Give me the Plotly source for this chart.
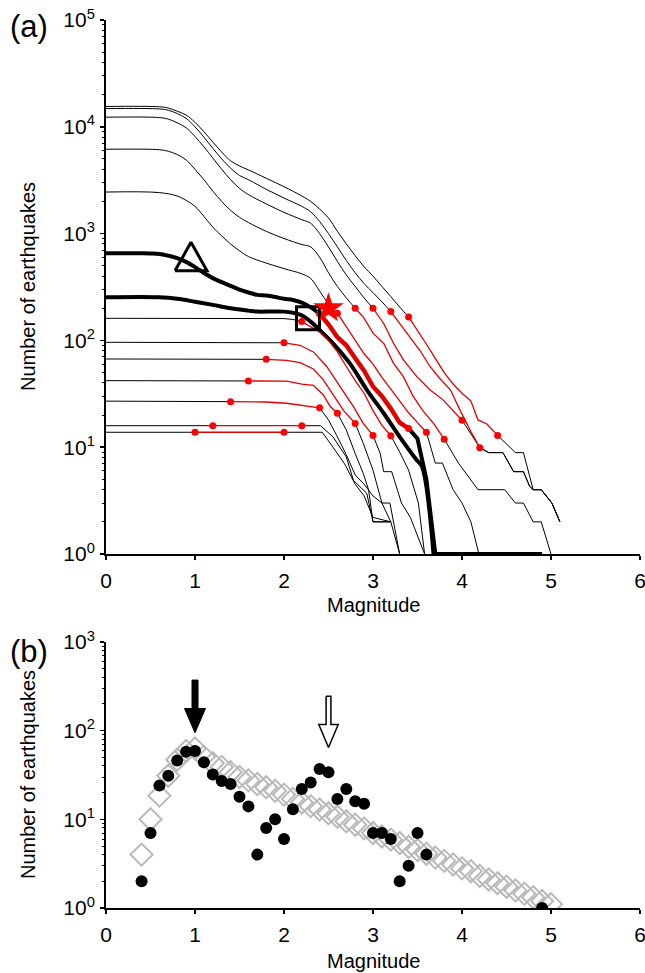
import plotly.graph_objects as go

# ---------------- layout constants (pixels) ----------------
W, H = 645, 973
# reference pixel rows/cols of the plot areas
REF_L, REF_R = 106, 640
A_TOP, A_BOT = 20, 554
B_TOP, B_BOT = 642, 908
ML = REF_L
MR = W - REF_R
MT = A_TOP
MB = H - B_BOT
PLOT_W = W - ML - MR
PLOT_H = H - MT - MB
ya_dom = [(B_BOT - A_BOT) / PLOT_H, 1.0]
yb_dom = [0.0, (B_BOT - B_TOP) / PLOT_H]
X_RANGE = [0, 6]
YA_RANGE = [0, 5]
YB_RANGE = [0, 3]
PX_PER_MAG = PLOT_W / (X_RANGE[1] - X_RANGE[0])
PX_PER_DEC_A = (A_BOT - A_TOP) / (YA_RANGE[1] - YA_RANGE[0])
PX_PER_DEC_B = (B_BOT - B_TOP) / (YB_RANGE[1] - YB_RANGE[0])

# ---------------- panel (b) data ----------------
b_dot_m = [0.4, 0.5, 0.6, 0.7, 0.8, 0.9, 1.0, 1.1, 1.2, 1.3, 1.4, 1.5, 1.6, 1.7, 1.8, 1.9,
           2.0, 2.1, 2.2, 2.3, 2.4, 2.5, 2.6, 2.7, 2.8, 2.9, 3.0, 3.1, 3.2, 3.3, 3.4, 3.5,
           3.6, 4.9]
b_dot_n = [2, 7, 24, 31, 46, 58, 59, 44, 32, 27, 25, 18, 14, 4, 8, 10,
           6, 13, 22, 26, 37, 34, 17, 22, 16, 15, 7, 7, 6, 2, 3, 7,
           4, 1]
b_dia_m = [0.4, 0.5, 0.6, 0.7, 0.8, 0.9, 1.0, 1.1, 1.2, 1.3, 1.4, 1.5, 1.6, 1.7, 1.8, 1.9,
           2.0, 2.1, 2.2, 2.3, 2.4, 2.5, 2.6, 2.7, 2.8, 2.9, 3.0, 3.1, 3.2, 3.3, 3.4, 3.5,
           3.6, 3.7, 3.8, 3.9, 4.0, 4.1, 4.2, 4.3, 4.4, 4.5, 4.6, 4.7, 4.8, 4.9, 5.0]
b_dia_n = [4, 10, 18.5, 31, 47, 59, 63, 51, 43, 39, 34, 30, 27.5, 25, 23, 21,
           19, 17, 15.5, 14.1, 12.9, 11.7, 10.7, 9.5, 8.7, 7.9, 7.0, 6.4, 5.9, 5.4, 4.9, 4.5,
           4.1, 3.7, 3.4, 3.1, 2.8, 2.6, 2.3, 2.1, 1.9, 1.74, 1.58, 1.45, 1.32, 1.2, 1.1]
# arrows in (b): magnitude, tip / head-base / shaft-top counts
arrow_m = [1.0, 2.5]
arrow_tip_n = [94.6, 64.6]
arrow_base_n = [178, 117]
arrow_top_n = [372, 245]
arrow_filled = [True, False]

# ---------------- panel (a) data ----------------
c01_m = [0, 0.6, 0.7, 0.8, 0.9, 1.0, 1.1, 1.2, 1.3, 1.4, 1.5, 1.6, 1.8, 2.0, 2.2, 2.3, 2.4, 2.5,
         2.6, 2.7, 2.8, 2.9, 3.0, 3.1, 3.2, 3.3, 3.4, 3.5, 3.6, 3.7, 3.8, 3.9, 4.0, 4.1, 4.18,
         4.28, 4.4, 4.6, 4.69, 4.8, 4.89, 5.01, 5.1]
c01_n = [15500, 15400, 15000, 14000, 12900, 11000, 9000, 7200, 5800, 4800, 4300, 3950, 3300,
         2750, 2250, 2000, 1700, 1400, 1050, 800, 620, 490, 400, 320, 257, 205, 166, 125, 92,
         68, 50, 39, 32, 27, 18, 16.5, 12.9, 8.9, 8.9, 4, 4, 3, 2]
c02_m = [0, 0.6, 0.7, 0.8, 0.9, 1.0, 1.1, 1.2, 1.3, 1.4, 1.5, 1.6, 1.8, 2.0, 2.2, 2.3, 2.4, 2.5,
         2.6, 2.7, 2.8, 2.9, 3.0, 3.1, 3.2, 3.3, 3.42, 3.53, 3.64, 3.75, 3.87, 3.98, 4.1, 4.2,
         4.3, 4.46, 4.58, 4.69, 4.76, 4.8, 4.89, 5.01, 5.1]
c02_n = [14800, 14700, 14300, 13300, 12000, 10000, 8000, 6300, 5000, 4100, 3500, 3200, 2600,
         2150, 1800, 1600, 1300, 1000, 750, 560, 430, 340, 280, 230, 186, 145, 108, 80, 57,
         44, 34.5, 22, 14, 9.9, 8.9, 8.9, 5.9, 5.9, 4.3, 4, 4, 3, 2]
c03_m = [0, 0.6, 0.7, 0.8, 0.9, 1.0, 1.1, 1.2, 1.3, 1.4, 1.5, 1.6, 1.8, 2.0, 2.2, 2.3, 2.4, 2.5,
         2.6, 2.7, 2.8, 2.9, 3.0, 3.12, 3.23, 3.34, 3.49, 3.64, 3.79, 3.9, 4.0, 4.2, 4.3, 4.46,
         4.58, 4.69, 4.76, 4.8, 4.89, 5.01, 5.1]
c03_n = [12300, 12200, 11800, 10900, 9800, 8100, 6500, 5100, 4000, 3200, 2650, 2320, 1900,
         1580, 1350, 1250, 1000, 750, 550, 410, 320, 250, 200, 144, 94, 66, 46, 34.5, 27.6,
         22, 17.9, 9.9, 8.9, 8.9, 5.9, 5.9, 4.3, 4, 4, 3, 2]
c04_m = [0, 0.6, 0.7, 0.8, 0.9, 1.0, 1.1, 1.2, 1.3, 1.4, 1.5, 1.6, 1.8, 2.0, 2.2, 2.3, 2.4, 2.5,
         2.6, 2.7, 2.8, 2.89, 3.0, 3.12, 3.23, 3.34, 3.45, 3.56, 3.68, 3.8, 3.96, 4.18, 4.48,
         4.6, 4.69, 4.8, 4.89, 5.0]
c04_n = [6160, 6100, 5900, 5500, 4900, 4000, 3200, 2500, 2000, 1650, 1420, 1270, 1050, 900,
         790, 750, 600, 430, 320, 250, 200, 166, 117, 94, 61, 46, 30, 22, 16.7, 11.9, 7.1, 4,
         4, 3, 3, 2, 2, 1]
c05_m = [0, 0.6, 0.8, 0.9, 1.0, 1.1, 1.2, 1.3, 1.4, 1.5, 1.6, 1.8, 2.0, 2.2, 2.3, 2.4, 2.5, 2.6,
         2.7, 2.8, 2.9, 3.0, 3.1, 3.2, 3.3, 3.4, 3.5, 3.6, 3.7, 3.78, 3.9, 4.0, 4.1, 4.19]
c05_n = [2450, 2420, 2250, 2050, 1800, 1450, 1150, 950, 800, 690, 610, 530, 470, 420, 380, 290,
         220, 180, 135, 100, 75, 60, 45, 35, 27, 21, 17, 13.8, 7.1, 7.1, 4, 3, 2, 1]
c06_m = [0, 2.0, 2.1, 2.2, 2.3, 2.4, 2.5, 2.6, 2.7, 2.8, 2.9, 3.0, 3.1, 3.2, 3.3, 3.4, 3.51, 3.58]
c06_n = [161, 160, 157, 150, 135, 120, 100, 78, 57, 42, 32, 22, 16, 12.8, 9, 6.1, 3, 1]
c07_m = [0, 2.0, 2.18, 2.33, 2.48, 2.63, 2.78, 2.89, 3.0, 3.08, 3.12, 3.21, 3.32, 3.42, 3.58]
c07_n = [96, 95, 90, 78, 57, 37, 24, 16.7, 12.9, 8.8, 5.9, 5.9, 3, 2.2, 1]
c08_m = [0, 1.8, 2.03, 2.18, 2.33, 2.44, 2.55, 2.67, 2.8, 2.89, 3.0, 3.1, 3.19, 3.3]
c08_n = [67, 66.5, 65, 62, 54, 43, 31, 22, 16.7, 10.9, 6.1, 3, 3, 1]
c09_m = [0, 1.6, 2.03, 2.2, 2.33, 2.44, 2.52, 2.6, 2.7, 2.8, 2.89, 2.95, 3.0, 3.19]
c09_n = [42, 41.7, 41.5, 39, 38, 31, 24, 20.8, 14.5, 8.7, 5.7, 4, 2, 2]
c10_m = [0, 1.4, 1.8, 2.03, 2.18, 2.4, 2.5, 2.6, 2.7, 2.8, 2.9, 3.0, 3.1, 3.2, 3.3]
c10_n = [27, 26.7, 26.5, 25.8, 24.8, 23.4, 18, 12.5, 8.5, 5.5, 4.5, 3.5, 3, 2, 1]
c11_m = [0, 1.2, 2.2, 2.41, 2.55, 2.70, 2.78, 2.93, 3.0, 3.2]
c11_n = [15.9, 15.9, 15.9, 15.9, 12.5, 8.1, 4.9, 3.7, 2, 2]
c12_m = [0, 1.0, 2.0, 2.43, 2.55, 2.68, 2.8, 2.9, 3.0, 3.2]
c12_n = [13.8, 13.8, 13.8, 13.8, 10, 7, 4.5, 3.5, 2.2, 2]
# red window (start, end magnitude) of each thin curve
thin_red_start = [3.4, 3.2, 3.0, 2.8, 2.6, 2.2, 2.0, 1.8, 1.6, 1.4, 1.2, 1.0]
thin_red_end = [4.4, 4.2, 4.0, 3.8, 3.6, 3.2, 3.0, 2.8, 2.6, 2.4, 2.2, 2.0]
# second thick black curve
thickb_m = [0, 0.6, 0.8, 1.0, 1.2, 1.4, 1.6, 1.7, 2.0, 2.18, 2.3, 2.4, 2.55, 2.74, 2.93, 3.12,
            3.30, 3.49, 3.55, 3.68]
thickb_n = [253, 253, 245, 230, 215, 200, 190, 186, 186, 174, 150, 125, 94, 61, 34.5, 20.8,
            12.5, 7.6, 6.6, 1]
# thick curve = cumulative of panel (b) dots; red window
thicka_red = [2.4, 3.4]
mag_grid = [round(0.1 * i, 1) for i in range(0, 50)]
# special symbols in (a): triangle, square, star (magnitude, count)
tri_m, tri_n = 0.955, 550
sq_m, sq_n = 2.27, 161
star_m, star_n = 2.5, 200

y_tick_a = [1, 10, 100, 1000, 10000, 100000]
y_tick_b = [1, 10, 100, 1000]
x_ticks = [0, 1, 2, 3, 4, 5, 6]

FONT = "Liberation Sans, Arial, Helvetica, sans-serif"
RED_LINE = "#e00000"
RED_DOT = "#ff0000"

thin_curves = [(c01_m, c01_n), (c02_m, c02_n), (c03_m, c03_n), (c04_m, c04_n),
               (c05_m, c05_n), (c06_m, c06_n), (c07_m, c07_n), (c08_m, c08_n),
               (c09_m, c09_n), (c10_m, c10_n), (c11_m, c11_n), (c12_m, c12_n)]


def split(m, n, s, e):
    eps = 1e-9
    head = [(a, b) for a, b in zip(m, n) if a <= s + eps]
    red = [(a, b) for a, b in zip(m, n) if s - eps <= a <= e + eps]
    tail = [(a, b) for a, b in zip(m, n) if a >= e - eps]
    return head, red, tail


def value_at(m, n, x):
    for a, b in zip(m, n):
        if abs(a - x) < 1e-6:
            return b
    return None


fig = go.Figure()


def add_line(pts, color, width, xa="x", ya="y", shape="linear"):
    if len(pts) < 2:
        return
    fig.add_trace(go.Scatter(x=[p[0] for p in pts], y=[p[1] for p in pts], mode="lines",
                             line=dict(color=color, width=width, shape=shape),
                             xaxis=xa, yaxis=ya, hoverinfo="skip", showlegend=False))


# thick curve A from the cumulative of (b)
thicka_m = []
thicka_n = []
for g in mag_grid:
    tot = sum(c for mm, c in zip(b_dot_m, b_dot_n) if mm >= g - 1e-9)
    if tot > 0:
        thicka_m.append(g)
        thicka_n.append(tot)

# black parts of thin curves
red_parts = []
dots_m, dots_n = [], []
for i, (m, n) in enumerate(thin_curves):
    s, e = thin_red_start[i], thin_red_end[i]
    head, red, tail = split(m, n, s, e)
    add_line(head, "black", 1.0, shape="spline" if i < 5 else "linear")
    add_line(tail, "black", 1.0)
    red_parts.append(red)
    dots_m += [s, e]
    dots_n += [value_at(m, n, s), value_at(m, n, e)]

# thick black curves
add_line(list(zip(thickb_m, thickb_n)), "black", 4.0, shape="spline")
ha, ra, ta = split(thicka_m, thicka_n, thicka_red[0], thicka_red[1])
add_line(ha, "black", 4.0, shape="spline")
add_line(ta, "black", 4.0)

# red thin segments
for red in red_parts:
    add_line(red, RED_LINE, 1.3)
# thick red
add_line(ra, RED_LINE, 4.5)
dots_m += thicka_red
dots_n += [value_at(thicka_m, thicka_n, v) for v in thicka_red]

fig.add_trace(go.Scatter(x=dots_m, y=dots_n, mode="markers",
                         marker=dict(color=RED_DOT, size=7, line=dict(width=0)),
                         xaxis="x", yaxis="y", hoverinfo="skip", showlegend=False))

# square
fig.add_trace(go.Scatter(x=[sq_m], y=[sq_n], mode="markers",
                         marker=dict(symbol="square-open", size=23, color="black",
                                     line=dict(width=3, color="black")),
                         xaxis="x", yaxis="y", hoverinfo="skip", showlegend=False))
# triangle drawn as an equilateral outline around its data point
half_w = 16 / PX_PER_MAG
up = 10 ** (19 / PX_PER_DEC_A)
down = 10 ** (-9.4 / PX_PER_DEC_A)
fig.add_trace(go.Scatter(x=[tri_m - half_w, tri_m, tri_m + half_w, tri_m - half_w],
                         y=[tri_n * down, tri_n * up, tri_n * down, tri_n * down],
                         mode="lines", line=dict(color="black", width=3),
                         xaxis="x", yaxis="y", hoverinfo="skip", showlegend=False))
# star
fig.add_trace(go.Scatter(x=[star_m], y=[star_n], mode="markers",
                         marker=dict(symbol="star", size=23, color=RED_DOT, line=dict(width=0)),
                         xaxis="x", yaxis="y", hoverinfo="skip", showlegend=False))

# ---------------- panel (b) ----------------
fig.add_trace(go.Scatter(x=b_dia_m, y=b_dia_n, mode="markers",
                         marker=dict(symbol="diamond-open", size=17, color="#b9b9b9",
                                     line=dict(width=2, color="#b9b9b9")),
                         xaxis="x2", yaxis="y2", hoverinfo="skip", showlegend=False))
fig.add_trace(go.Scatter(x=b_dot_m, y=b_dot_n, mode="markers",
                         marker=dict(symbol="circle", size=12, color="black", line=dict(width=0)),
                         xaxis="x2", yaxis="y2", hoverinfo="skip", showlegend=False))

for m, tip, base, top, filled in zip(arrow_m, arrow_tip_n, arrow_base_n, arrow_top_n,
                                     arrow_filled):
    sh = (3.0 if filled else 2.4) / PX_PER_MAG
    hh = (10.5 if filled else 9.7) / PX_PER_MAG
    xs = [m - sh, m + sh, m + sh, m + hh, m, m - hh, m - sh, m - sh]
    ys = [top, top, base, base, tip, base, base, top]
    fig.add_trace(go.Scatter(x=xs, y=ys, mode="lines", fill="toself",
                             fillcolor="black" if filled else "white",
                             line=dict(color="black", width=1.0 if filled else 1.5),
                             xaxis="x2", yaxis="y2", hoverinfo="skip", showlegend=False))


def sup(v):
    import math
    return "10<sup>%d</sup>" % round(math.log10(v))


minor_a = [k * 10 ** d for d in range(0, 5) for k in range(2, 10)]
minor_b = [k * 10 ** d for d in range(0, 3) for k in range(2, 10)]

TICK_FONT = dict(family=FONT, size=21, color="black")
xcommon = dict(range=X_RANGE, tickmode="array", tickvals=x_ticks, ticktext=[str(v) for v in x_ticks],
               ticks="outside", ticklen=4, tickwidth=1.5, tickcolor="black", automargin=False,
               showline=True, linewidth=2, linecolor="black", showgrid=False, zeroline=False,
               tickfont=TICK_FONT, ticklabelstandoff=3, ticklabeloverflow="allow")
ycommon = dict(type="log", ticks="outside", ticklen=4, tickwidth=1.5, tickcolor="black",
               showline=True, linewidth=2, linecolor="black", showgrid=False, zeroline=False,
               automargin=False, ticklabelstandoff=1, ticklabeloverflow="allow",
               tickfont=TICK_FONT, tickmode="array")

fig.update_layout(
    template="none",
    width=W, height=H, margin=dict(l=ML, r=MR, t=MT, b=MB, autoexpand=False),
    paper_bgcolor="white", plot_bgcolor="white", showlegend=False,
    font=dict(family=FONT, color="black"),
    xaxis=dict(domain=[0, 1], anchor="y", **xcommon),
    yaxis=dict(domain=ya_dom, anchor="x", range=YA_RANGE, tickvals=y_tick_a,
               ticktext=[sup(v) for v in y_tick_a],
               minor=dict(tickmode="array", tickvals=minor_a, ticks="outside", ticklen=2,
                          tickwidth=1, tickcolor="black", showgrid=False), **ycommon),
    xaxis2=dict(domain=[0, 1], anchor="y2", **xcommon),
    yaxis2=dict(domain=yb_dom, anchor="x2", range=YB_RANGE, tickvals=y_tick_b,
                ticktext=[sup(v) for v in y_tick_b],
                minor=dict(tickmode="array", tickvals=minor_b, ticks="outside", ticklen=2,
                           tickwidth=1, tickcolor="black", showgrid=False), **ycommon),
)


def py(pix):
    # reference pixel row -> paper fraction
    return (B_BOT - pix) / PLOT_H


def px(pix):
    # reference pixel column -> paper fraction
    return (pix - REF_L) / PLOT_W


ann = [
    dict(text="(a)", x=px(8), y=py(26), xanchor="left", yanchor="middle", font=dict(size=31)),
    dict(text="(b)", x=px(8), y=py(651), xanchor="left", yanchor="middle", font=dict(size=31)),
    dict(text="Number of earthquakes", x=px(28), y=py((A_TOP + A_BOT) / 2), textangle=-90,
         xanchor="center", yanchor="middle", font=dict(size=20)),
    dict(text="Number of earthquakes", x=px(28), y=py((B_TOP + B_BOT) / 2), textangle=-90,
         xanchor="center", yanchor="middle", font=dict(size=20)),
    dict(text="Magnitude", x=0.5, y=py(605), xanchor="center", yanchor="middle", font=dict(size=20)),
    dict(text="Magnitude", x=0.5, y=py(961), xanchor="center", yanchor="middle", font=dict(size=20)),
]
for a in ann:
    a.update(xref="paper", yref="paper", showarrow=False)
    a["font"].update(family=FONT, color="black")
fig.update_layout(annotations=ann)

# remove the default page margin so the figure fills the window exactly; no mode bar
fig.write_html("out.html",
               config={"displayModeBar": False, "staticPlot": True},
               post_script="document.body.style.margin='0';"
                           "document.documentElement.style.overflow='hidden';")
